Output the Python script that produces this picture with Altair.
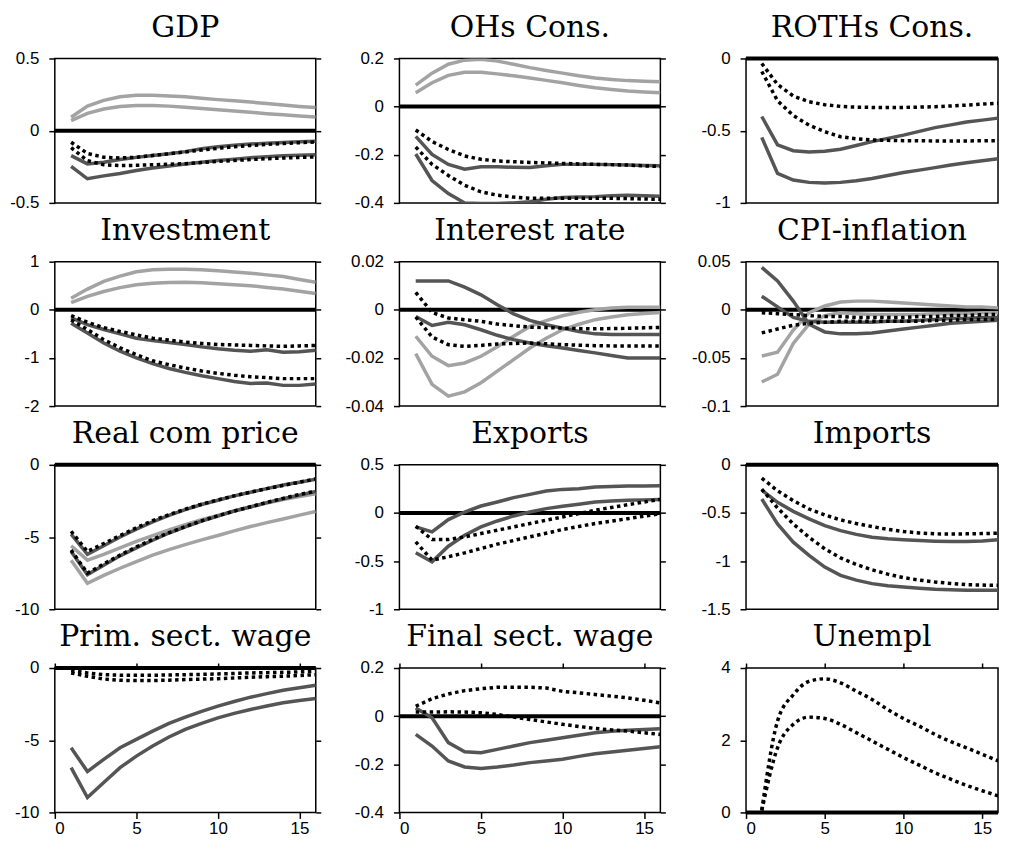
import altair as alt
import pandas as pd

T = list(range(1, 17))
X_TICKS = [0, 5, 10, 15]

# ---------------- GDP ----------------
GDP_LIGHT_A = [0.093, 0.17, 0.21, 0.235, 0.245, 0.245, 0.24, 0.235, 0.225, 0.215, 0.207, 0.198, 0.188, 0.178, 0.168, 0.16]
GDP_LIGHT_B = [0.07, 0.12, 0.15, 0.167, 0.175, 0.175, 0.17, 0.162, 0.153, 0.145, 0.136, 0.127, 0.118, 0.11, 0.102, 0.095]
GDP_DARK_A = [-0.173, -0.23, -0.218, -0.2, -0.185, -0.172, -0.16, -0.145, -0.125, -0.112, -0.1, -0.093, -0.087, -0.082, -0.077, -0.073]
GDP_DARK_B = [-0.247, -0.333, -0.313, -0.296, -0.276, -0.258, -0.244, -0.231, -0.219, -0.207, -0.197, -0.187, -0.18, -0.173, -0.17, -0.167]
GDP_DOT_A = [-0.08, -0.158, -0.184, -0.189, -0.184, -0.172, -0.16, -0.147, -0.134, -0.122, -0.111, -0.102, -0.095, -0.089, -0.083, -0.078]
GDP_DOT_B = [-0.118, -0.207, -0.236, -0.242, -0.24, -0.236, -0.232, -0.229, -0.221, -0.213, -0.206, -0.2, -0.194, -0.189, -0.185, -0.182]

# ---------------- OHs Cons. ----------------
OHS_LIGHT_A = [0.089, 0.139, 0.176, 0.193, 0.197, 0.189, 0.176, 0.162, 0.15, 0.139, 0.128, 0.119, 0.113, 0.108, 0.105, 0.103]
OHS_LIGHT_B = [0.058, 0.099, 0.13, 0.143, 0.143, 0.136, 0.128, 0.119, 0.109, 0.099, 0.088, 0.078, 0.071, 0.065, 0.061, 0.058]
OHS_DARK_A = [-0.124, -0.199, -0.24, -0.26, -0.25, -0.25, -0.252, -0.253, -0.246, -0.24, -0.24, -0.24, -0.241, -0.243, -0.245, -0.246]
OHS_DARK_B = [-0.197, -0.307, -0.361, -0.4, -0.402, -0.402, -0.4, -0.395, -0.385, -0.378, -0.376, -0.374, -0.37, -0.368, -0.37, -0.372]
OHS_DOT_A = [-0.097, -0.145, -0.178, -0.205, -0.219, -0.226, -0.229, -0.232, -0.234, -0.236, -0.238, -0.24, -0.241, -0.243, -0.246, -0.249]
OHS_DOT_B = [-0.168, -0.24, -0.286, -0.327, -0.354, -0.368, -0.376, -0.381, -0.381, -0.381, -0.381, -0.381, -0.381, -0.382, -0.384, -0.385]

# ---------------- ROTHs Cons. ----------------
ROT_DARK_A = [-0.402, -0.598, -0.639, -0.648, -0.643, -0.628, -0.603, -0.576, -0.553, -0.531, -0.505, -0.479, -0.46, -0.44, -0.427, -0.413]
ROT_DARK_B = [-0.546, -0.796, -0.842, -0.858, -0.862, -0.858, -0.846, -0.831, -0.81, -0.79, -0.773, -0.756, -0.738, -0.722, -0.708, -0.695]
ROT_DOT_A = [-0.035, -0.18, -0.26, -0.3, -0.32, -0.332, -0.337, -0.339, -0.339, -0.339, -0.337, -0.334, -0.329, -0.323, -0.316, -0.31]
ROT_DOT_B = [-0.09, -0.293, -0.395, -0.462, -0.507, -0.542, -0.556, -0.564, -0.567, -0.569, -0.57, -0.571, -0.571, -0.571, -0.57, -0.569]

# ---------------- Investment ----------------
INV_LIGHT_A = [0.24, 0.43, 0.59, 0.70, 0.79, 0.83, 0.84, 0.84, 0.83, 0.81, 0.785, 0.76, 0.725, 0.69, 0.63, 0.57]
INV_LIGHT_B = [0.15, 0.28, 0.38, 0.46, 0.52, 0.55, 0.565, 0.57, 0.56, 0.54, 0.52, 0.50, 0.465, 0.43, 0.385, 0.34]
INV_DARK_A = [-0.17, -0.31, -0.41, -0.5, -0.59, -0.64, -0.68, -0.72, -0.77, -0.81, -0.84, -0.86, -0.83, -0.88, -0.87, -0.84]
INV_DARK_B = [-0.28, -0.48, -0.69, -0.86, -1.0, -1.12, -1.22, -1.3, -1.37, -1.43, -1.49, -1.53, -1.52, -1.57, -1.57, -1.54]
INV_DOT_A = [-0.12, -0.26, -0.37, -0.45, -0.52, -0.59, -0.63, -0.67, -0.70, -0.72, -0.73, -0.74, -0.75, -0.76, -0.75, -0.74]
INV_DOT_B = [-0.21, -0.41, -0.62, -0.79, -0.93, -1.06, -1.14, -1.21, -1.27, -1.32, -1.36, -1.39, -1.41, -1.43, -1.43, -1.43]

# ---------------- Interest rate ----------------
INT_LIGHT_A = [-0.011, -0.0193, -0.0232, -0.0221, -0.0193, -0.0154, -0.011, -0.0069, -0.0045, -0.0025, -0.001, 0.0, 0.0007, 0.0011, 0.0011, 0.0011]
INT_LIGHT_B = [-0.0182, -0.031, -0.0359, -0.0341, -0.0303, -0.0255, -0.0207, -0.0159, -0.0118, -0.0083, -0.006, -0.0041, -0.003, -0.0021, -0.0015, -0.0011]
INT_DARK_A = [0.012, 0.012, 0.012, 0.0094, 0.0062, 0.0021, -0.0017, -0.0044, -0.0062, -0.0076, -0.009, -0.01, -0.0103, -0.0103, -0.0103, -0.0103]
INT_DARK_B = [-0.0028, -0.0065, -0.0052, -0.0062, -0.0083, -0.0106, -0.0124, -0.0138, -0.0149, -0.0159, -0.0169, -0.0179, -0.019, -0.02, -0.02, -0.02]
INT_DOT_A = [0.0072, -0.0011, -0.0034, -0.0041, -0.0048, -0.0059, -0.0066, -0.0072, -0.0074, -0.0076, -0.0078, -0.0079, -0.0078, -0.0077, -0.0075, -0.0073]
INT_DOT_B = [-0.003, -0.0113, -0.0145, -0.0152, -0.0148, -0.0142, -0.014, -0.0138, -0.0141, -0.0145, -0.0147, -0.0149, -0.015, -0.015, -0.015, -0.015]

# ---------------- CPI-inflation ----------------
CPI_LIGHT_A = [-0.048, -0.044, -0.021, -0.003, 0.004, 0.008, 0.009, 0.009, 0.008, 0.007, 0.006, 0.005, 0.004, 0.003, 0.003, 0.002]
CPI_LIGHT_B = [-0.075, -0.067, -0.035, -0.015, -0.006, -0.003, -0.004, -0.005, -0.005, -0.005, -0.005, -0.004, -0.004, -0.004, -0.003, -0.003]
CPI_DARK_A = [0.044, 0.030, 0.009, -0.015, -0.023, -0.025, -0.025, -0.024, -0.022, -0.020, -0.018, -0.016, -0.014, -0.013, -0.012, -0.011]
CPI_DARK_B = [0.014, 0.003, -0.008, -0.012, -0.013, -0.013, -0.013, -0.013, -0.012, -0.012, -0.011, -0.010, -0.009, -0.009, -0.008, -0.008]
CPI_DOT_A = [-0.003, -0.004, -0.005, -0.006, -0.007, -0.007, -0.008, -0.008, -0.008, -0.008, -0.007, -0.007, -0.006, -0.006, -0.005, -0.005]
CPI_DOT_B = [-0.024, -0.020, -0.016, -0.014, -0.013, -0.012, -0.012, -0.012, -0.012, -0.012, -0.012, -0.011, -0.011, -0.010, -0.010, -0.010]

# ---------------- Real com price ----------------
RCP_LIGHT_A = [-5.6, -6.6, -6.2, -5.75, -5.3, -4.9, -4.5, -4.15, -3.8, -3.5, -3.2, -2.9, -2.65, -2.4, -2.2, -2.0]
RCP_LIGHT_B = [-6.6, -8.2, -7.66, -7.16, -6.7, -6.25, -5.87, -5.52, -5.2, -4.89, -4.57, -4.27, -4.0, -3.75, -3.48, -3.23]
RCP_DARK_A = [-4.8, -6.2, -5.6, -5.0, -4.45, -3.95, -3.5, -3.1, -2.75, -2.45, -2.15, -1.9, -1.65, -1.4, -1.2, -1.0]
RCP_DARK_B = [-6.0, -7.6, -6.95, -6.3, -5.75, -5.22, -4.72, -4.3, -3.9, -3.55, -3.2, -2.92, -2.62, -2.35, -2.1, -1.85]
RCP_DOT_A = [-4.6, -6.0, -5.45, -4.9, -4.36, -3.86, -3.45, -3.07, -2.73, -2.43, -2.15, -1.89, -1.65, -1.43, -1.2, -0.98]
RCP_DOT_B = [-5.9, -7.5, -6.86, -6.25, -5.68, -5.16, -4.7, -4.27, -3.88, -3.52, -3.2, -2.9, -2.6, -2.32, -2.05, -1.82]

# ---------------- Exports ----------------
EXP_DARK_A = [-0.145, -0.197, -0.069, 0.01, 0.072, 0.114, 0.159, 0.193, 0.228, 0.245, 0.252, 0.269, 0.275, 0.279, 0.281, 0.283]
EXP_DARK_B = [-0.414, -0.507, -0.345, -0.231, -0.145, -0.083, -0.031, 0.01, 0.045, 0.069, 0.09, 0.114, 0.125, 0.131, 0.136, 0.141]
EXP_DOT_A = [-0.138, -0.276, -0.276, -0.248, -0.214, -0.179, -0.145, -0.11, -0.075, -0.041, -0.006, 0.028, 0.057, 0.086, 0.114, 0.141]
EXP_DOT_B = [-0.3, -0.49, -0.455, -0.414, -0.369, -0.324, -0.286, -0.248, -0.21, -0.172, -0.14, -0.11, -0.084, -0.059, -0.033, -0.007]

# ---------------- Imports ----------------
IMP_DARK_A = [-0.262, -0.39, -0.483, -0.562, -0.631, -0.683, -0.722, -0.752, -0.768, -0.779, -0.787, -0.793, -0.796, -0.797, -0.79, -0.779]
IMP_DARK_B = [-0.355, -0.614, -0.803, -0.941, -1.062, -1.148, -1.197, -1.234, -1.255, -1.269, -1.282, -1.293, -1.298, -1.303, -1.303, -1.303]
IMP_DOT_A = [-0.138, -0.269, -0.372, -0.459, -0.521, -0.572, -0.61, -0.641, -0.67, -0.693, -0.707, -0.717, -0.718, -0.717, -0.714, -0.71]
IMP_DOT_B = [-0.252, -0.448, -0.614, -0.752, -0.872, -0.966, -1.035, -1.09, -1.135, -1.172, -1.197, -1.217, -1.232, -1.245, -1.249, -1.252]

# ---------------- Prim. sect. wage ----------------
PSW_DARK_A = [-5.52, -7.17, -6.32, -5.52, -4.94, -4.37, -3.84, -3.4, -3.0, -2.64, -2.32, -2.02, -1.77, -1.54, -1.36, -1.2]
PSW_DARK_B = [-6.9, -8.97, -7.93, -6.9, -6.1, -5.4, -4.78, -4.25, -3.83, -3.45, -3.14, -2.87, -2.63, -2.41, -2.25, -2.11]
PSW_DOT_A = [-0.18, -0.34, -0.46, -0.5, -0.5, -0.5, -0.48, -0.46, -0.44, -0.41, -0.38, -0.34, -0.32, -0.3, -0.27, -0.23]
PSW_DOT_B = [-0.34, -0.57, -0.76, -0.85, -0.87, -0.87, -0.84, -0.8, -0.77, -0.74, -0.69, -0.64, -0.6, -0.57, -0.52, -0.46]

# ---------------- Final sect. wage ----------------
FSW_DARK_A = [0.034, -0.007, -0.11, -0.148, -0.152, -0.138, -0.124, -0.11, -0.1, -0.09, -0.079, -0.069, -0.063, -0.059, -0.055, -0.052]
FSW_DARK_B = [-0.076, -0.124, -0.186, -0.211, -0.217, -0.211, -0.203, -0.193, -0.186, -0.179, -0.167, -0.156, -0.149, -0.142, -0.134, -0.127]
FSW_DOT_A = [0.041, 0.073, 0.092, 0.106, 0.114, 0.12, 0.12, 0.12, 0.117, 0.103, 0.097, 0.09, 0.083, 0.076, 0.066, 0.055]
FSW_DOT_B = [0.017, 0.017, 0.018, 0.017, 0.014, 0.007, -0.004, -0.014, -0.024, -0.034, -0.043, -0.051, -0.057, -0.062, -0.069, -0.076]

# ---------------- Unempl ----------------
UNE_DOT_A = [0.06, 2.53, 3.26, 3.63, 3.7, 3.59, 3.36, 3.13, 2.85, 2.6, 2.39, 2.16, 1.96, 1.79, 1.61, 1.43]
UNE_DOT_B = [0.05, 1.79, 2.44, 2.64, 2.6, 2.44, 2.21, 1.98, 1.75, 1.52, 1.31, 1.1, 0.92, 0.75, 0.6, 0.46]

PANELS = [
    ("GDP", [-0.5, 0.5], [-0.5, 0, 0.5],
     [("light", [GDP_LIGHT_A, GDP_LIGHT_B]), ("dark", [GDP_DARK_A, GDP_DARK_B]), ("dot", [GDP_DOT_A, GDP_DOT_B])], "linear"),
    ("OHs Cons.", [-0.4, 0.2], [-0.4, -0.2, 0, 0.2],
     [("light", [OHS_LIGHT_A, OHS_LIGHT_B]), ("dark", [OHS_DARK_A, OHS_DARK_B]), ("dot", [OHS_DOT_A, OHS_DOT_B])], "linear"),
    ("ROTHs Cons.", [-1, 0], [-1, -0.5, 0],
     [("dark", [ROT_DARK_A, ROT_DARK_B]), ("dot", [ROT_DOT_A, ROT_DOT_B])], "linear"),
    ("Investment", [-2, 1], [-2, -1, 0, 1],
     [("light", [INV_LIGHT_A, INV_LIGHT_B]), ("dark", [INV_DARK_A, INV_DARK_B]), ("dot", [INV_DOT_A, INV_DOT_B])], "linear"),
    ("Interest rate", [-0.04, 0.02], [-0.04, -0.02, 0, 0.02],
     [("light", [INT_LIGHT_A, INT_LIGHT_B]), ("dark", [INT_DARK_A, INT_DARK_B]), ("dot", [INT_DOT_A, INT_DOT_B])], "linear"),
    ("CPI-inflation", [-0.1, 0.05], [-0.1, -0.05, 0, 0.05],
     [("light", [CPI_LIGHT_A, CPI_LIGHT_B]), ("dark", [CPI_DARK_A, CPI_DARK_B]), ("dot", [CPI_DOT_A, CPI_DOT_B])], "linear"),
    ("Real com price", [-10, 0], [-10, -5, 0],
     [("light", [RCP_LIGHT_A, RCP_LIGHT_B]), ("dark", [RCP_DARK_A, RCP_DARK_B]), ("dot", [RCP_DOT_A, RCP_DOT_B])], "linear"),
    ("Exports", [-1, 0.5], [-1, -0.5, 0, 0.5],
     [("dark", [EXP_DARK_A, EXP_DARK_B]), ("dot", [EXP_DOT_A, EXP_DOT_B])], "linear"),
    ("Imports", [-1.5, 0], [-1.5, -1, -0.5, 0],
     [("dark", [IMP_DARK_A, IMP_DARK_B]), ("dot", [IMP_DOT_A, IMP_DOT_B])], "linear"),
    ("Prim. sect. wage", [-10, 0], [-10, -5, 0],
     [("dark", [PSW_DARK_A, PSW_DARK_B]), ("dot", [PSW_DOT_A, PSW_DOT_B])], "linear"),
    ("Final sect. wage", [-0.4, 0.2], [-0.4, -0.2, 0, 0.2],
     [("dark", [FSW_DARK_A, FSW_DARK_B]), ("dot", [FSW_DOT_A, FSW_DOT_B])], "linear"),
    ("Unempl", [0, 4], [0, 2, 4],
     [("dot", [UNE_DOT_A, UNE_DOT_B])], "monotone"),
]

STYLE = {
    "light": dict(color="#a3a3a3", strokeWidth=3.5),
    "dark": dict(color="#555555", strokeWidth=3.5),
    "dot": dict(color="#000000", strokeWidth=3.5, strokeDash=[3.5, 3.5], strokeCap="butt"),
}

WIDTHS = [262, 262, 253]
H = 145
LEFT_EXT = [46, 57, 59]
RIGHT_EXT = [5, 5, 0]
TITLE_FONT = "DejaVu Serif"
LABEL_FONT = "Liberation Sans"


def build_panel(name, dom, ticks, series, interp, bottom, col):
    xs = alt.Scale(domain=[0, 16], nice=False, zero=False)
    ys = alt.Scale(domain=dom, nice=False, zero=False)
    yaxis = alt.Axis(orient="left", values=ticks, labelExpr="'' + datum.value", title=None,
                     grid=False, domain=False, tickSize=6, labelPadding=10,
                     minExtent=LEFT_EXT[col], maxExtent=LEFT_EXT[col], labelFontSize=17)
    if bottom:
        xaxis = alt.Axis(orient="bottom", values=X_TICKS, format="d", title=None, grid=False,
                         domain=False, tickSize=6, labelFontSize=17, labelPadding=2)
    else:
        xaxis = None
    zero_df = pd.DataFrame({"z": [0.0]})
    layers = [alt.Chart(zero_df).mark_rule(color="black", strokeWidth=4).encode(
        y=alt.Y("z:Q", scale=ys, axis=yaxis))]
    for style, lines in series:
        rows = []
        for k, vals in enumerate(lines):
            for t, v in zip(T, vals):
                rows.append({"t": t, "v": v, "sid": k})
        df = pd.DataFrame(rows)
        layers.append(
            alt.Chart(df).mark_line(clip=True, interpolate=interp, **STYLE[style]).encode(
                x=alt.X("t:Q", scale=xs, axis=xaxis),
                y=alt.Y("v:Q", scale=ys, axis=yaxis),
                detail="sid:N",
            )
        )
    inner = alt.layer(*layers)
    if RIGHT_EXT[col] > 0:
        right_axis = alt.Axis(orient="right", values=ticks, labels=False, title=None, grid=False,
                              domain=False, tickSize=5, minExtent=RIGHT_EXT[col], maxExtent=RIGHT_EXT[col])
    else:
        right_axis = None
    fenc = dict(y=alt.Y("z:Q", scale=ys, axis=right_axis))
    if bottom:
        fenc["x"] = alt.X("z:Q", scale=xs, axis=alt.Axis(
            orient="top", values=X_TICKS, labels=False, title=None, grid=False, domain=False,
            tickSize=5, minExtent=5, maxExtent=5))
    frame = alt.Chart(zero_df).mark_point(opacity=0).encode(**fenc)
    ch = alt.layer(inner, frame).resolve_scale(y="independent", x="independent" if bottom else "shared")
    return ch.properties(
        width=WIDTHS[col], height=H,
        title=alt.TitleParams(name, font=TITLE_FONT, fontSize=30, fontWeight="normal",
                              anchor="middle", frame="group", baseline="alphabetic",
                              offset=-17, color="black"),
    )


rows = []
for r in range(4):
    cells = []
    for c in range(3):
        name, dom, ticks, series, interp = PANELS[r * 3 + c]
        cells.append(build_panel(name, dom, ticks, series, interp, bottom=(r == 3), col=c))
    rows.append(alt.hconcat(*cells, spacing=19))

chart = alt.vconcat(*rows, spacing=3).properties(
    padding={"left": 0, "top": 2, "right": 0, "bottom": 0}
).configure_view(
    stroke="black", strokeWidth=1.5
).configure_axis(
    labelFont=LABEL_FONT, labelColor="black", tickColor="black", tickWidth=1.5
)

chart.save("out.html", embed_options={"renderer": "svg", "actions": False})
